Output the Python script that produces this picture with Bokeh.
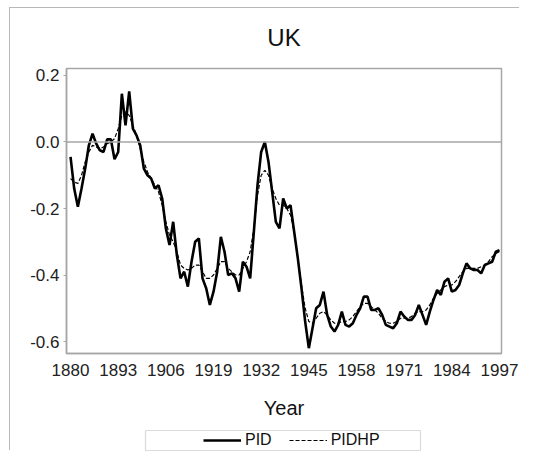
from bokeh.plotting import figure
from bokeh.layouts import column
from bokeh.models import (Range1d, FixedTicker, CustomJSTickFormatter, Span, Legend,
                          LegendItem, ColumnDataSource, BoxAnnotation)
from bokeh.embed import file_html
from bokeh.resources import INLINE

years = list(range(1880, 1998))

pid = [
    -0.045, -0.14, -0.195, -0.14, -0.08, -0.01, 0.025, -0.005, -0.025, -0.03,   # 1880-1889
    0.008, 0.008, -0.052, -0.03, 0.145, 0.05, 0.152, 0.04, 0.02, -0.01,          # 1890-1899
    -0.08, -0.10, -0.11, -0.14, -0.13, -0.17, -0.26, -0.31, -0.24, -0.34,        # 1900-1909
    -0.41, -0.39, -0.435, -0.36, -0.30, -0.29, -0.41, -0.44, -0.49, -0.45,       # 1910-1919
    -0.39, -0.285, -0.33, -0.40, -0.395, -0.41, -0.45, -0.36, -0.375, -0.41,     # 1920-1929
    -0.27, -0.13, -0.03, 0.0, -0.06, -0.15, -0.24, -0.26, -0.17, -0.20,          # 1930-1939
    -0.19, -0.27, -0.35, -0.44, -0.54, -0.62, -0.56, -0.50, -0.49, -0.45,        # 1940-1949
    -0.52, -0.555, -0.57, -0.55, -0.51, -0.55, -0.555, -0.545, -0.52, -0.50,     # 1950-1959
    -0.465, -0.465, -0.505, -0.505, -0.50, -0.52, -0.55, -0.555, -0.56, -0.545,  # 1960-1969
    -0.51, -0.525, -0.535, -0.535, -0.52, -0.49, -0.52, -0.55, -0.51, -0.475,    # 1970-1979
    -0.445, -0.46, -0.42, -0.41, -0.45, -0.445, -0.43, -0.395, -0.365, -0.38,    # 1980-1989
    -0.385, -0.385, -0.395, -0.37, -0.365, -0.36, -0.33, -0.325,                 # 1990-1997
]

pidhp = [
    -0.11, -0.12, -0.125, -0.10, -0.06, -0.03, -0.01, -0.015, -0.02, -0.015,     # 1880-1889
    -0.005, 0.0, 0.01, 0.04, 0.08, 0.09, 0.08, 0.05, 0.02, -0.02,                # 1890-1899
    -0.06, -0.09, -0.11, -0.13, -0.15, -0.19, -0.24, -0.28, -0.30, -0.33,        # 1900-1909
    -0.37, -0.38, -0.385, -0.38, -0.37, -0.37, -0.39, -0.41, -0.41, -0.40,       # 1910-1919
    -0.38, -0.36, -0.36, -0.38, -0.39, -0.40, -0.40, -0.38, -0.36, -0.33,        # 1920-1929
    -0.26, -0.16, -0.10, -0.085, -0.10, -0.14, -0.17, -0.19, -0.19, -0.20,       # 1930-1939
    -0.22, -0.27, -0.35, -0.43, -0.50, -0.54, -0.545, -0.53, -0.515, -0.51,      # 1940-1949
    -0.52, -0.535, -0.545, -0.545, -0.54, -0.54, -0.535, -0.525, -0.51, -0.495,  # 1950-1959
    -0.485, -0.485, -0.495, -0.505, -0.515, -0.53, -0.54, -0.545, -0.545, -0.54, # 1960-1969
    -0.53, -0.53, -0.53, -0.525, -0.515, -0.51, -0.51, -0.505, -0.49, -0.47,     # 1970-1979
    -0.455, -0.445, -0.435, -0.43, -0.43, -0.42, -0.405, -0.39, -0.38, -0.38,    # 1980-1989
    -0.38, -0.38, -0.375, -0.37, -0.36, -0.345, -0.335, -0.33,                   # 1990-1997
]

x_ticks = [1880, 1893, 1906, 1919, 1932, 1945, 1958, 1971, 1984, 1997]
y_ticks = [0.2, 0.0, -0.2, -0.4, -0.6]
series_names = ["PID", "PIDHP"]

FONT = "Liberation Sans"
GRAY = "#a6a6a6"

src = ColumnDataSource(dict(year=years, pid=pid, pidhp=pidhp))

p = figure(width=510, height=420, output_backend="svg", toolbar_location=None,
           x_range=Range1d(1878.9, 1997.55), y_range=Range1d(-0.636, 0.221),
           min_border_left=56, min_border_right=19, min_border_top=60, min_border_bottom=75,
           background_fill_color="white", border_fill_color="white")

p.title.text = "UK"
p.title.align = "center"
p.title.vertical_align = "top"
p.title.text_font = FONT
p.title.text_font_size = "24px"
p.title.text_font_style = "normal"
p.title.text_color = "#111111"
p.title.standoff = 31

p.outline_line_color = GRAY
p.outline_line_width = 1.5
p.xgrid.visible = False
p.ygrid.visible = False

p.xaxis.ticker = FixedTicker(ticks=x_ticks)
p.yaxis.ticker = FixedTicker(ticks=y_ticks)
p.yaxis.formatter = CustomJSTickFormatter(code="return tick.toFixed(1);")
for ax in (p.xaxis, p.yaxis):
    ax.axis_line_color = GRAY
    ax.axis_line_width = 1.5
    ax.major_label_text_font = FONT
    ax.major_label_text_font_size = "17px"
    ax.major_label_text_color = "#222222"
    ax.minor_tick_line_color = None
p.xaxis.major_tick_line_color = None
p.xaxis.major_label_standoff = 4
p.yaxis.major_tick_line_color = GRAY
p.yaxis.major_tick_out = 3
p.yaxis.major_tick_in = 0
p.yaxis.major_label_standoff = 4

p.xaxis.axis_label = "Year"
p.xaxis.axis_label_text_font = FONT
p.xaxis.axis_label_text_font_size = "20px"
p.xaxis.axis_label_text_font_style = "normal"
p.xaxis.axis_label_text_color = "#111111"
p.xaxis.axis_label_standoff = 18

p.add_layout(Span(location=0, dimension="width", line_color=GRAY, line_width=1.5))

p.line("year", "pid", source=src, line_color="black", line_width=2.6)
p.line("year", "pidhp", source=src, line_color="black", line_width=1.2, line_dash="4 2")

# legend strip (same horizontal frame as the main plot; the series lie outside its view)
lf = figure(width=510, height=23, output_backend="svg", toolbar_location=None,
            x_range=Range1d(0, 1), y_range=Range1d(0, 1),
            x_axis_type=None, y_axis_type=None,
            min_border_left=56, min_border_right=19, min_border_top=0, min_border_bottom=0,
            background_fill_color="white", border_fill_color="white")
lf.xgrid.visible = False
lf.ygrid.visible = False
lf.outline_line_color = None
l1 = lf.line("year", "pid", source=src, line_color="black", line_width=2.6)
l2 = lf.line("year", "pidhp", source=src, line_color="black", line_width=1.2, line_dash="4 2")
lf.add_layout(BoxAnnotation(left=0.1816, right=0.8138, bottom=0.043, top=0.913,
                            fill_alpha=0, line_color="#888888", line_width=1.2,
                            editable=False))
legend = Legend(items=[LegendItem(label=series_names[0], renderers=[l1]),
                       LegendItem(label=series_names[1], renderers=[l2])],
                orientation="horizontal", location=(137, 2),
                border_line_alpha=0, background_fill_alpha=0,
                label_text_font=FONT, label_text_font_size="16px",
                label_text_color="#111111", label_height=16,
                glyph_width=38, glyph_height=16, label_standoff=4, spacing=17,
                padding=0, margin=0)
lf.add_layout(legend, "center")

layout = column(p, lf, spacing=0, margin=(8, 0, 0, 10),
                styles={"box-shadow": "-1px -1px 0px 0px #b8b8b8"})

open("out.html", "w").write(file_html(layout, INLINE))
